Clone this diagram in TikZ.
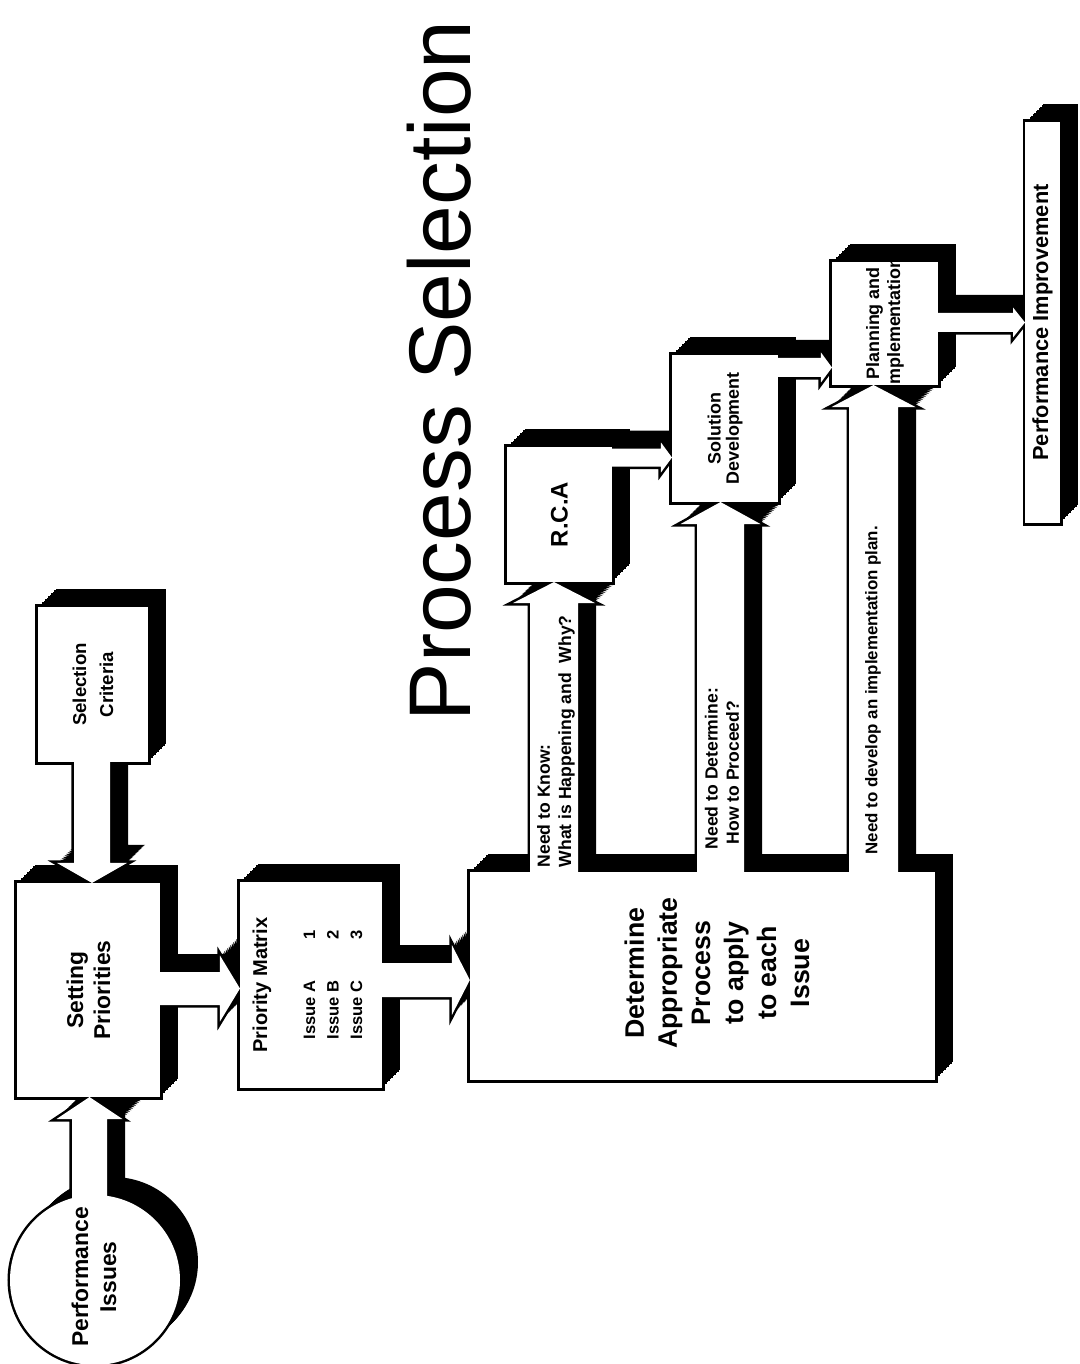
\documentclass[tikz,border=0pt]{standalone}
\usepackage{fontspec}
\newfontfamily\hv{Liberation Sans}
\usetikzlibrary{calc}
\pgfdeclarelayer{bgl}\pgfdeclarelayer{shad}\pgfdeclarelayer{outl}\pgfdeclarelayer{face}
\pgfsetlayers{bgl,shad,outl,face,main}
\newcommand\fs[2]{\fontsize{#1}{#2}\selectfont}
% extruded solid: black shadow towards upper right, white face with outline
\newcommand\solid[1]{%
  \begin{pgfonlayer}{shad}\foreach \t in {0,1.5,...,18}{\fill[black,transform canvas={shift={(\t,-\t)}}] #1;}\end{pgfonlayer}
  \begin{pgfonlayer}{outl}\draw[black,line width=0.05cm,line join=miter] #1;\end{pgfonlayer}
  \begin{pgfonlayer}{face}\fill[white] #1;\end{pgfonlayer}}
% block arrows: #1 start, #2 tip, #3 shaft half width, #4 head half width, #5 head length
\newcommand\uparr[5]{($(#1)+(-#3,0)$) -- ($(#2)+(-#3,#5)$) -- ($(#2)+(-#4,#5)$) -- (#2) -- ($(#2)+(#4,#5)$) -- ($(#2)+(#3,#5)$) -- ($(#1)+(#3,0)$) -- cycle}
\newcommand\downarr[5]{($(#1)+(-#3,0)$) -- ($(#2)+(-#3,-#5)$) -- ($(#2)+(-#4,-#5)$) -- (#2) -- ($(#2)+(#4,-#5)$) -- ($(#2)+(#3,-#5)$) -- ($(#1)+(#3,0)$) -- cycle}
\newcommand\rarr[5]{($(#1)+(0,-#3)$) -- ($(#2)+(-#5,-#3)$) -- ($(#2)+(-#5,-#4)$) -- (#2) -- ($(#2)+(-#5,#4)$) -- ($(#2)+(-#5,#3)$) -- ($(#1)+(0,#3)$) -- cycle}
\begin{document}
\begin{tikzpicture}[x=0.01cm,y=-0.01cm,
  boxn/.style={inner sep=0pt,outer sep=0pt,draw=none,rectangle},
  lab/.style={rotate=90,inner sep=0pt,align=center,text=black}]
\begin{pgfonlayer}{bgl}\fill[white] (0,0) rectangle (1080,1364);\end{pgfonlayer}
\useasboundingbox (0,0) rectangle (1080,1364);

% ---------- boxes (named nodes) ----------
\node[boxn,minimum width=1.10cm,minimum height=1.55cm] (sc)  at (93,684.5) {};
\node[boxn,minimum width=1.43cm,minimum height=2.14cm] (sp)  at (88.5,990) {};
\node[boxn,minimum width=1.42cm,minimum height=2.06cm] (pm)  at (311,985) {};
\node[boxn,minimum width=4.65cm,minimum height=2.08cm] (dt)  at (702.5,976) {};
\node[boxn,minimum width=1.05cm,minimum height=1.35cm] (rca) at (559.5,514.5) {};
\node[boxn,minimum width=1.06cm,minimum height=1.47cm] (sd)  at (725,428.5) {};
\node[boxn,minimum width=1.06cm,minimum height=1.23cm] (pl)  at (885,323.5) {};
\node[boxn,minimum width=0.35cm,minimum height=4.01cm] (pi)  at (1042.5,322.5) {};
\node[circle,inner sep=0pt,outer sep=0pt,minimum size=1.7cm,draw=none] (pis) at (95,1280) {};

% ---------- arrow end points ----------
\coordinate (a1s) at (89.5,0 |- pis.center);
\coordinate (a1t) at (89.5,0 |- sp.south);
\coordinate (a2s) at ($(92,0 |- sc.south)+(0,-3)$);
\coordinate (a2t) at (92,0 |- sp.north);
\coordinate (a3s) at ($(sp.east |- 0,988.5)+(-3,0)$);
\coordinate (a3t) at (pm.west |- 0,988.5);
\coordinate (a4s) at ($(pm.east |- 0,980)+(-3,0)$);
\coordinate (a4t) at (dt.west |- 0,980);
\coordinate (a5s) at ($(554,0 |- dt.north)+(0,3)$);
\coordinate (a5t) at (554,0 |- rca.south);
\coordinate (a6s) at ($(720.5,0 |- dt.north)+(0,3)$);
\coordinate (a6t) at (720.5,0 |- sd.south);
\coordinate (a7s) at ($(873.5,0 |- dt.north)+(0,3)$);
\coordinate (a7t) at (873.5,0 |- pl.south);
\coordinate (a8s) at ($(rca.east |- 0,457.5)+(-3,0)$);
\coordinate (a8t) at (sd.west |- 0,457.5);
\coordinate (a9s) at ($(sd.east |- 0,367.5)+(-3,0)$);
\coordinate (a9t) at (pl.west |- 0,367.5);
\coordinate (a10s) at ($(pl.east |- 0,322.5)+(-3,0)$);
\coordinate (a10t) at (pi.west |- 0,322.5);

% ---------- solids ----------
\solid{(pis.center) circle[radius=85]}
\solid{(sc.south west) rectangle (sc.north east)}
\solid{(sp.south west) rectangle (sp.north east)}
\solid{(pm.south west) rectangle (pm.north east)}
\solid{(dt.south west) rectangle (dt.north east)}
\solid{(rca.south west) rectangle (rca.north east)}
\solid{(sd.south west) rectangle (sd.north east)}
\solid{(pl.south west) rectangle (pl.north east)}
\solid{(pi.south west) rectangle (pi.north east)}
\solid{\uparr{a1s}{a1t}{17.5}{33}{22}}
\solid{\downarr{a2s}{a2t}{18}{35}{20}}
\solid{\rarr{a3s}{a3t}{16.5}{33}{20}}
\solid{\rarr{a4s}{a4t}{17}{35}{18}}
\solid{\uparr{a5s}{a5t}{24}{41}{21}}
\solid{\uparr{a6s}{a6t}{23.5}{40}{22}}
\solid{\uparr{a7s}{a7t}{24.5}{42}{22}}
\solid{\rarr{a8s}{a8t}{9}{15}{11}}
\solid{\rarr{a9s}{a9t}{9.5}{15}{11}}
\solid{\rarr{a10s}{a10t}{9.5}{15}{12}}

% ---------- texts ----------
\node[rotate=90,anchor=base west,inner sep=0pt,font=\hv\fs{24.9}{30}] (title) at (470,722) {Process Selection};
\node[lab,font=\hv\bfseries\fs{6.5}{8}] (pist) at (94,1277) {Performance\\Issues};
\node[lab,font=\hv\bfseries\fs{5.3}{7.7}] (sct) at (sc.center) {Selection\\Criteria};
\node[lab,font=\hv\bfseries\fs{6.5}{7.7}] (spt) at (sp.center) {Setting\\Priorities};
\node[lab,font=\hv\bfseries\fs{5.7}{7}] (pmt) at (262,985) {Priority Matrix};
\node[lab,anchor=west,align=left,font=\hv\bfseries\fs{4.7}{6.7}] (iss) at (333,1040)
  {\makebox[1cm][l]{Issue A}1\\\makebox[1cm][l]{Issue B}2\\\makebox[1cm][l]{Issue C}3};
\node[lab,font=\hv\bfseries\fs{7.6}{9.4}] (dtt) at (717,973) {Determine\\Appropriate\\Process\\to apply\\to each\\Issue};
\node[lab,font=\hv\bfseries\fs{6.8}{8}] (rcat) at (rca.center) {R.C.A};
\node[lab,font=\hv\bfseries\fs{5.1}{5.2}] (sdt) at (sd.center) {Solution\\Development};
\node[lab,font=\hv\bfseries\fs{5.1}{6}] (plt) at (pl.center) {Planning and\\Implementation};
\node[lab,font=\hv\bfseries\fs{6.2}{7}] (pit) at (pi.center) {Performance Improvement};
\node[lab,anchor=west,align=left,font=\hv\bfseries\fs{5}{6}] (l1) at (556,868) {Need to Know:\\What is Happening and\ \ Why?};
\node[lab,anchor=west,align=left,font=\hv\bfseries\fs{5}{6}] (l2) at (722,850) {Need to Determine:\\\ How to Proceed?};
\node[lab,anchor=west,align=left,font=\hv\bfseries\fs{4.8}{6}] (l3) at (873,855) {Need to develop an implementation plan.};
\end{tikzpicture}
\end{document}
